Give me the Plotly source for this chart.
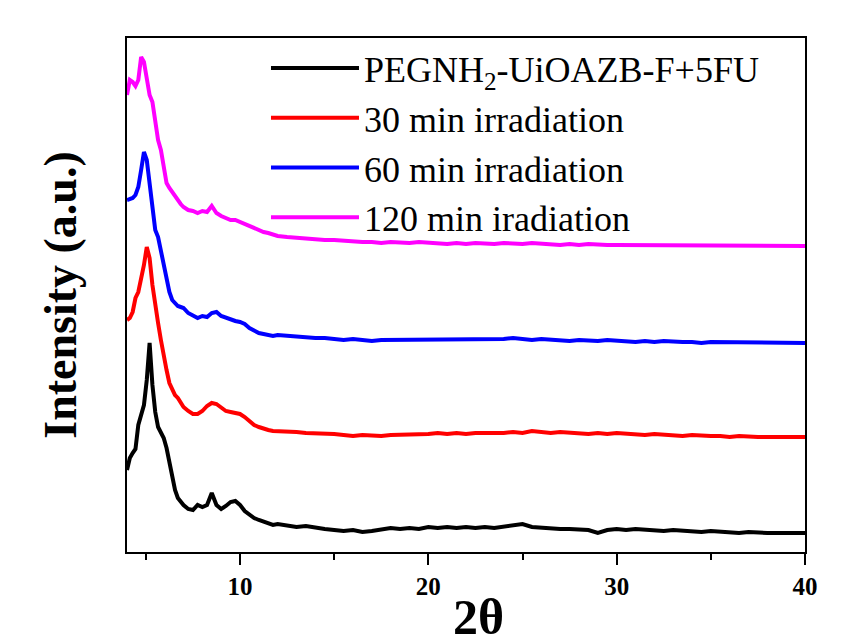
import plotly.graph_objects as go

# 2-theta sampling grid (degrees)
two_theta = [
    4.0, 4.15, 4.3, 4.45, 4.6, 4.75, 4.9, 5.05, 5.2, 5.35, 5.5, 5.65, 5.8, 5.95, 6.1, 6.25, 6.4, 6.55, 6.7, 6.85, 7.0,
    7.25, 7.5, 7.75, 8.0, 8.25, 8.5, 8.75, 9.0, 9.25, 9.5, 9.75, 10.0, 10.25, 10.5, 10.75, 11.0, 11.25, 11.5, 11.75, 12.0,
    12.5, 13.0, 13.5, 14.0, 14.5, 15.0, 15.5, 16.0, 16.5, 17.0, 17.5, 18.0, 18.5, 19.0, 19.5, 20.0,
    20.5, 21.0, 21.5, 22.0, 22.5, 23.0, 23.5, 24.0, 24.5, 25.0, 25.5, 26.0, 26.5, 27.0, 27.5, 28.0,
    28.5, 29.0, 29.5, 30.0, 30.5, 31.0, 31.5, 32.0, 32.5, 33.0, 33.5, 34.0, 34.5, 35.0, 35.5, 36.0,
    36.5, 37.0, 37.5, 38.0, 38.5, 39.0, 39.5, 40.0,
]

# Intensities (a.u., stacked offsets as in the figure)
int_peg = [
    82, 94, 99, 103, 127, 139, 147, 172, 209, 167, 140, 125, 120, 114, 104, 90, 75, 62, 54, 50, 47,
    43, 42, 47, 45, 47, 59, 47, 43, 46, 50, 51, 47, 41, 37, 34, 32, 30, 29, 27, 28,
    26, 25, 26, 24, 23, 22, 21, 22, 20, 21, 23, 24, 23, 24, 23, 25,
    24, 25, 24, 25, 24, 25, 24, 25, 26, 28, 25, 24, 24, 23, 23, 23,
    22, 19, 22, 23, 22, 23, 22, 22, 21, 22, 21, 21, 20, 21, 20, 20,
    19, 20, 19, 19, 19, 19, 19, 19,
]
int_30 = [
    232, 234, 240, 254, 260, 272, 287, 305, 294, 267, 244, 229, 212, 195, 182, 169, 162, 157, 154, 149, 145,
    141, 138, 138, 141, 146, 149, 148, 144, 141, 140, 139, 138, 135, 131, 127, 125, 123, 122, 121, 121,
    120, 120, 119, 119, 118, 118, 117, 116, 117, 116, 116, 117, 117, 118, 117, 118,
    119, 118, 119, 118, 119, 119, 118, 119, 120, 119, 121, 120, 119, 120, 119, 119,
    118, 119, 118, 119, 118, 118, 117, 118, 117, 117, 116, 117, 116, 116, 116, 115,
    116, 115, 115, 115, 115, 115, 115, 115,
]
int_60 = [
    352, 353, 354, 357, 365, 382, 400, 392, 367, 342, 322, 315, 302, 287, 272, 260, 252, 249, 246, 245, 244,
    239, 236, 234, 236, 235, 239, 240, 236, 234, 233, 231, 230, 228, 224, 221, 219, 218, 217, 216, 217,
    216, 215, 215, 214, 214, 213, 212, 213, 212, 211, 212, 212, 213, 212, 213, 212,
    213, 212, 213, 213, 212, 213, 212, 213, 214, 213, 212, 213, 212, 212, 211, 212,
    211, 211, 212, 211, 211, 210, 211, 210, 211, 210, 210, 210, 209, 210, 210, 209,
    210, 209, 209, 209, 210, 209, 209, 209,
]
int_120 = [
    457, 472, 470, 466, 472, 495, 490, 472, 457, 450, 427, 412, 402, 382, 369, 364, 360, 355, 351, 348, 345,
    342, 341, 339, 341, 340, 346, 339, 336, 334, 332, 332, 330, 328, 326, 323, 321, 320, 319, 317, 316,
    315, 314, 314, 313, 312, 312, 311, 311, 310, 310, 309, 310, 309, 309, 310, 309,
    309, 308, 309, 308, 309, 308, 308, 309, 308, 308, 309, 308, 308, 307, 308, 307,
    308, 307, 307, 307, 307, 306, 307, 306, 307, 306, 306, 307, 306, 306, 306, 306,
    307, 306, 306, 306, 306, 306, 306, 306,
]

series_names = [
    "PEGNH<sub>2</sub>-UiOAZB-F+5FU",
    "30 min irradiation",
    "60 min irradiation",
    "120 min iradiation",
]
series_values = [int_peg, int_30, int_60, int_120]
series_colors = ["#000000", "#FF0000", "#0000FF", "#FF00FF"]

x_tickvals = [10, 20, 30, 40]
x_ticktext = ["10", "20", "30", "40"]

SERIF = "Liberation Serif"

fig = go.Figure()
for name, vals, col in zip(series_names, series_values, series_colors):
    fig.add_trace(go.Scatter(
        x=two_theta, y=vals, mode="lines", name=name,
        line=dict(color=col, width=4),
    ))

fig.update_layout(
    width=847, height=641,
    margin=dict(l=127, r=42, t=38, b=89),
    paper_bgcolor="white", plot_bgcolor="white",
    font=dict(family=SERIF, color="black"),
    showlegend=True,
    legend=dict(
        x=0.205, y=1.0, xanchor="left", yanchor="top",
        bgcolor="rgba(0,0,0,0)", borderwidth=0,
        font=dict(family=SERIF, size=36, color="black"),
        itemwidth=88,
    ),
    xaxis=dict(
        range=[4, 40], tickmode="array", tickvals=x_tickvals, ticktext=x_ticktext,
        ticks="outside", ticklen=11, tickwidth=2, tickcolor="black",
        showline=True, linewidth=2, linecolor="black", mirror=True,
        showgrid=False, zeroline=False, automargin=False,
        tickfont=dict(family=SERIF, size=25, color="black", weight="bold"),
        minor=dict(ticks="outside", dtick=5, tick0=0, ticklen=6, tickwidth=2, tickcolor="black", showgrid=False),
    ),
    yaxis=dict(
        range=[0, 514], showticklabels=False, ticks="",
        showline=True, linewidth=2, linecolor="black", mirror=True,
        showgrid=False, zeroline=False, automargin=False,
        title=dict(text="Intensity (a.u.)", font=dict(family=SERIF, size=46, color="black", weight="bold"), standoff=34),
    ),
    annotations=[dict(
        text="2θ", xref="paper", yref="paper", x=0.519, y=-0.126,
        xanchor="center", yanchor="middle", showarrow=False,
        font=dict(family=SERIF, size=50, color="black", weight="bold"),
    )],
)

fig.write_html("out.html")
